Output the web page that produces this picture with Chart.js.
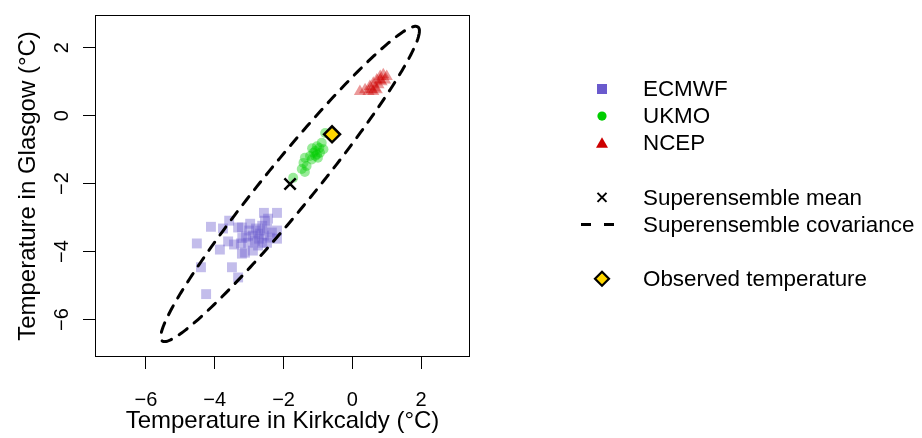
<!DOCTYPE html>
<html>
<head>
<meta charset="utf-8">
<script src="https://cdn.jsdelivr.net/npm/chart.js@4/dist/chart.umd.min.js"></script>
<style>
  html, body { margin: 0; padding: 0; background: #fff; }
  #wrap { width: 922px; height: 438px; position: relative; }
</style>
</head>
<body>
<div id="wrap"><canvas id="tempChart" width="922" height="438"></canvas></div>
<script>
// ---- ensemble members (Kirkcaldy x, Glasgow y), deg C ----
const ecmwfX = [-2.57, -2.19, -4.11, -3.76, -3.58, -3.32, -4.52, -3.85, -3.61, -3.44, -3.21, -4.40, -3.50, -3.32,
    -4.25, -3.21, -2.97, -2.54, -2.48, -2.74, -2.89, -2.19, -3.03, -2.62, -2.39, -2.19, -3.12, -2.74, -2.89, -2.34,
    -2.68, -2.83, -2.48, -3.09, -2.62, -2.80, -3.00, -3.24, -2.45, -2.71, -2.57, -3.20];
const ecmwfY = [-2.86, -2.86, -3.27, -3.32, -3.09, -3.29, -3.76, -3.94, -3.70, -3.79, -4.06, -4.46, -4.46, -4.76,
    -5.25, -3.29, -3.18, -3.09, -3.32, -3.47, -3.53, -3.38, -3.74, -3.74, -3.59, -3.62, -4.03, -3.82, -3.97, -3.44,
    -3.38, -3.68, -3.74, -3.56, -3.24, -3.32, -3.38, -3.76, -3.03, -3.62, -3.53, -3.60];

const ukmoX = [-0.79, -0.89, -0.96, -1.08, -1.03, -1.23, -1.38, -1.42, -1.33, -1.47, -1.38, -1.72, -1.13, -1.00,
    -1.18, -0.84, -0.94, -1.08, -1.17, -1.03];
const ukmoY = [-0.51, -0.80, -0.95, -1.04, -1.14, -1.19, -1.24, -1.39, -1.48, -1.57, -1.66, -1.83, -1.09, -1.24,
    -1.29, -0.99, -1.09, -1.19, -0.96, -0.90];

const ncepX = [0.22, 0.37, 0.51, 0.61, 0.71, 0.81, 0.90, 1.00, 0.56, 0.66, 0.76, 0.85, 0.47, 0.71, 0.81, 0.95, 0.61];
const ncepY = [0.71, 0.76, 0.86, 0.95, 1.05, 1.15, 1.20, 1.15, 0.76, 0.81, 0.91, 1.00, 0.71, 0.76, 1.05, 1.05, 0.71];

// superensemble summary + observation
const superMean = [-1.81, -2.01];
const superCov = [[2.36, 2.825], [2.825, 3.59]];
const covLevel = 5.991; // chi-square 95%, 2 dof
const observed = [-0.59, -0.55];

const xTicks = [-6, -4, -2, 0, 2];
const yTicks = [-6, -4, -2, 0, 2];

const legendItems = [
    { label: 'ECMWF', marker: 'square', color: '#6A5ACD' },
    { label: 'UKMO', marker: 'circle', color: '#00CD00' },
    { label: 'NCEP', marker: 'triangle', color: '#CD0000' },
    null,
    { label: 'Superensemble mean', marker: 'cross' },
    { label: 'Superensemble covariance', marker: 'dash' },
    null,
    { label: 'Observed temperature', marker: 'diamond' }
];

const FONT = '"Liberation Sans", Arial, Helvetica, sans-serif';

function toPoints(xs, ys) {
    return xs.map((x, i) => ({ x: x, y: ys[i] }));
}

// covariance contour via Cholesky factor
function ellipsePoints(mean, cov, level, n) {
    const l11 = Math.sqrt(cov[0][0]);
    const l21 = cov[1][0] / l11;
    const l22 = Math.sqrt(cov[1][1] - l21 * l21);
    const r = Math.sqrt(level);
    const pts = [];
    for (let i = 0; i <= n; i++) {
        const t = 2 * Math.PI * i / n;
        const u = r * Math.cos(t), v = r * Math.sin(t);
        pts.push({ x: mean[0] + l11 * u, y: mean[1] + l21 * u + l22 * v });
    }
    return pts;
}

function minusLabel(v) {
    return v < 0 ? '\u2212' + Math.abs(v) : String(v);
}

// ---- frame box + rotated y tick labels ----
const framePlugin = {
    id: 'frame',
    afterDraw(chart) {
        const { ctx, chartArea } = chart;
        const ys = chart.scales.y;
        ctx.save();
        ctx.strokeStyle = '#000';
        ctx.lineWidth = 1;
        ctx.strokeRect(chartArea.left + 0.5, chartArea.top + 0.5,
            chartArea.right - chartArea.left - 1, chartArea.bottom - chartArea.top - 1);

        ctx.fillStyle = '#000';
        ctx.font = '20px ' + FONT;
        ctx.textAlign = 'center';
        ctx.textBaseline = 'middle';
        yTicks.forEach(v => {
            const py = ys.getPixelForValue(v);
            ctx.save();
            ctx.translate(62, py);
            ctx.rotate(-Math.PI / 2);
            ctx.fillText(minusLabel(v), 0, 0);
            ctx.restore();
        });
        ctx.restore();
    }
};

// ---- legend on the right ----
function drawMarker(ctx, kind, x, y, color) {
    ctx.save();
    ctx.fillStyle = color || '#000';
    ctx.strokeStyle = '#000';
    ctx.beginPath();
    if (kind === 'square') {
        ctx.fillRect(x - 5, y - 5, 10, 10);
    } else if (kind === 'circle') {
        ctx.arc(x, y, 4.6, 0, 2 * Math.PI);
        ctx.fill();
    } else if (kind === 'triangle') {
        ctx.moveTo(x, y - 6);
        ctx.lineTo(x + 6, y + 4.5);
        ctx.lineTo(x - 6, y + 4.5);
        ctx.closePath();
        ctx.fill();
    } else if (kind === 'cross') {
        ctx.lineWidth = 2;
        ctx.moveTo(x - 4.5, y - 4.5); ctx.lineTo(x + 4.5, y + 4.5);
        ctx.moveTo(x + 4.5, y - 4.5); ctx.lineTo(x - 4.5, y + 4.5);
        ctx.stroke();
    } else if (kind === 'dash') {
        ctx.lineWidth = 3;
        ctx.moveTo(581, y); ctx.lineTo(591, y);
        ctx.moveTo(604, y); ctx.lineTo(614, y);
        ctx.stroke();
    } else if (kind === 'diamond') {
        ctx.lineWidth = 2.2;
        ctx.fillStyle = '#FFD700';
        ctx.moveTo(x, y - 7); ctx.lineTo(x + 7, y); ctx.lineTo(x, y + 7); ctx.lineTo(x - 7, y);
        ctx.closePath();
        ctx.fill();
        ctx.stroke();
    }
    ctx.restore();
}

const legendPlugin = {
    id: 'sideLegend',
    afterDraw(chart) {
        const ctx = chart.ctx;
        const rowH = 27.1;
        const top = 89;
        ctx.save();
        ctx.font = '22.4px ' + FONT;
        ctx.fillStyle = '#000';
        ctx.textAlign = 'left';
        ctx.textBaseline = 'middle';
        legendItems.forEach((item, i) => {
            if (!item) return;
            const y = top + i * rowH;
            drawMarker(ctx, item.marker, 602, y, item.color);
            ctx.fillStyle = '#000';
            ctx.fillText(item.label, 643, y + 1);
        });
        ctx.restore();
    }
};

const ctx = document.getElementById('tempChart').getContext('2d');
new Chart(ctx, {
    type: 'scatter',
    data: {
        datasets: [
            {
                label: 'Observed temperature',
                data: [{ x: observed[0], y: observed[1] }],
                pointStyle: 'rectRot',
                pointRadius: 8,
                backgroundColor: '#FFD700',
                borderColor: '#000',
                borderWidth: 2.5,
                order: 0
            },
            {
                label: 'Superensemble mean',
                data: [{ x: superMean[0], y: superMean[1] }],
                pointStyle: 'crossRot',
                pointRadius: 8,
                borderColor: '#000',
                borderWidth: 2.5,
                order: 1
            },
            {
                label: 'Superensemble covariance',
                type: 'line',
                data: ellipsePoints(superMean, superCov, covLevel, 240),
                showLine: true,
                pointRadius: 0,
                borderColor: '#000',
                borderWidth: 3,
                borderDash: [10, 9],
                borderCapStyle: 'round',
                fill: false,
                tension: 0,
                order: 2
            },
            {
                label: 'NCEP',
                data: toPoints(ncepX, ncepY),
                pointStyle: 'triangle',
                pointRadius: 7,
                backgroundColor: 'rgba(205,0,0,0.4)',
                borderWidth: 0,
                order: 3
            },
            {
                label: 'UKMO',
                data: toPoints(ukmoX, ukmoY),
                pointStyle: 'circle',
                pointRadius: 5,
                backgroundColor: 'rgba(0,205,0,0.4)',
                borderWidth: 0,
                order: 4
            },
            {
                label: 'ECMWF',
                data: toPoints(ecmwfX, ecmwfY),
                pointStyle: 'rect',
                pointRadius: 7,
                backgroundColor: 'rgba(106,90,205,0.4)',
                borderWidth: 0,
                order: 5
            }
        ]
    },
    options: {
        responsive: false,
        animation: false,
        devicePixelRatio: 1,
        layout: { padding: { left: 0, top: 13, right: 452, bottom: 0 } },
        plugins: {
            legend: { display: false },
            tooltip: { enabled: false }
        },
        scales: {
            x: {
                type: 'linear',
                min: -7.48,
                max: 3.42,
                afterFit(scale) { scale.height = 81; },
                afterBuildTicks(scale) { scale.ticks = xTicks.map(v => ({ value: v })); },
                grid: { display: true, drawOnChartArea: false, drawTicks: true, tickLength: 12, color: '#000', lineWidth: 1 },
                border: { display: false },
                ticks: {
                    color: '#000',
                    font: { size: 20, family: FONT },
                    padding: 19,
                    maxRotation: 0,
                    callback: v => minusLabel(v)
                },
                title: {
                    display: true,
                    text: 'Temperature in Kirkcaldy (\u00B0C)',
                    color: '#000',
                    font: { size: 24, family: FONT },
                    padding: { top: 0, bottom: 2 }
                }
            },
            y: {
                type: 'linear',
                min: -7.1,
                max: 2.96,
                afterFit(scale) { scale.width = 95; },
                afterBuildTicks(scale) { scale.ticks = yTicks.map(v => ({ value: v })); },
                grid: { display: true, drawOnChartArea: false, drawTicks: true, tickLength: 12, color: '#000', lineWidth: 1 },
                border: { display: false },
                ticks: {
                    color: 'rgba(0,0,0,0)',
                    font: { size: 20, family: FONT },
                    callback: v => minusLabel(v)
                },
                title: {
                    display: true,
                    text: 'Temperature in Glasgow (\u00B0C)',
                    color: '#000',
                    font: { size: 24, family: FONT },
                    padding: { top: 14, bottom: 0 }
                }
            }
        }
    },
    plugins: [framePlugin, legendPlugin]
});
</script>
</body>
</html>
